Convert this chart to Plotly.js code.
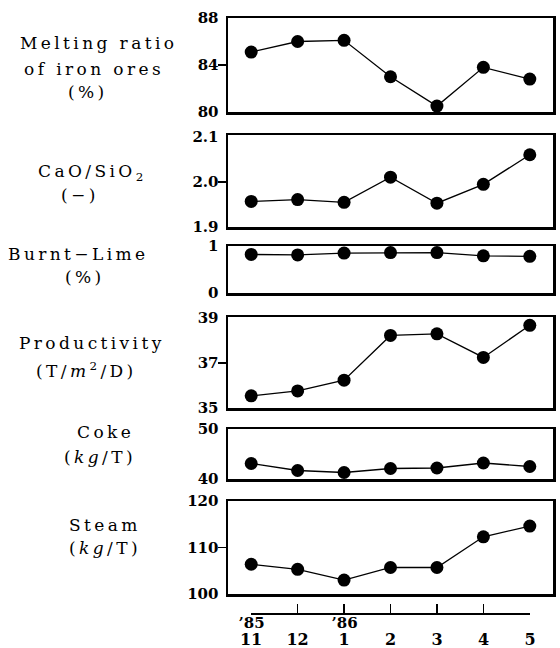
<!DOCTYPE html>
<html><head><meta charset="utf-8">
<script src="https://cdn.plot.ly/plotly-3.0.1.min.js"></script>
<style>
body{margin:0;background:#fff}
.annotation-text{letter-spacing:0.2em}
.annotation[data-index="13"] .annotation-text,.annotation[data-index="14"] .annotation-text{letter-spacing:0}
</style>
</head><body><div id="chart" style="width:560px;height:648px"></div>
<script>
const months = ['11','12','1','2','3','4','5'];
const years = ['\u201985','','\u201986','','','',''];
const meltingRatio = [85.1, 86.0, 86.1, 83.0, 80.5, 83.8, 82.8];
const basicity = [1.957, 1.961, 1.955, 2.011, 1.953, 1.995, 2.061];
const burntLime = [0.82, 0.81, 0.85, 0.86, 0.86, 0.79, 0.78];
const productivity = [35.54, 35.76, 36.24, 38.23, 38.30, 37.25, 38.68];
const coke = [43.1, 41.7, 41.3, 42.1, 42.2, 43.2, 42.5];
const steam = [106.4, 105.3, 103.0, 105.7, 105.7, 112.3, 114.6];

const ticks1 = [80, 84, 88];
const ticks2 = [1.9, 2.0, 2.1];
const ticks3 = [0, 1];
const ticks4 = [35, 37, 39];
const ticks5 = [40, 50];
const ticks6 = [100, 110, 120];

const xs = months.map((m, i) => i);
const series = [meltingRatio, basicity, burntLime, productivity, coke, steam];
const tickSets = [ticks1, ticks2, ticks3, ticks4, ticks5, ticks6];
const tickText = [['80','84','88'], ['1.9','2.0','2.1'], ['0','1'], ['35','37','39'], ['40','50'], ['100','110','120']];
const midTicks = [[84], [2.0], [], [37], [], [110]];
const ranges = [[80, 88], [1.9, 2.105], [0, 1], [35, 39.05], [40, 50], [100, 120]];
const pxDomains = [[18, 112], [135, 227], [246, 293], [317, 408], [429, 479], [501, 594]];

const H = 648;
const xDom = [228/560, 553/560];
const font = '"DejaVu Serif", "Liberation Serif", serif';

const traces = [];
const layout = {
  width: 560, height: 648,
  margin: {l: 0, r: 0, t: 0, b: 0},
  paper_bgcolor: '#fff', plot_bgcolor: '#fff',
  showlegend: false,
  font: {family: font, color: '#000', size: 15},
  annotations: []
};

series.forEach((vals, k) => {
  const i = k + 1;
  traces.push({
    x: xs, y: vals, xaxis: 'x' + i, yaxis: 'y' + i,
    mode: 'lines+markers', cliponaxis: false,
    line: {color: '#000', width: 1.3},
    marker: {color: '#000', size: 13}
  });
  const d = pxDomains[k];
  layout['xaxis' + i] = {
    domain: xDom, range: [-0.5, 6.5], anchor: 'y' + i,
    showline: true, mirror: true, linewidth: 2.5, linecolor: '#000',
    ticks: '', showticklabels: false, showgrid: false, zeroline: false, fixedrange: true
  };
  layout['yaxis' + i] = {
    domain: [1 - d[1]/H, 1 - d[0]/H], range: ranges[k], anchor: 'x' + i,
    showline: true, mirror: true, linewidth: 2.5, linecolor: '#000',
    tickmode: 'array', tickvals: tickSets[k], ticktext: tickText[k],
    ticks: '', ticklabelstandoff: 4,
    minor: {tickmode: 'array', tickvals: midTicks[k], ticks: 'outside', ticklen: 8, tickwidth: 1.5, tickcolor: '#000', showgrid: false},
    showgrid: false, zeroline: false, fixedrange: true,
    tickfont: {family: font, size: 15, color: '#000', weight: 'bold'}
  };
});

// bottom month axis
traces.push({x: xs, y: xs.map(() => null), xaxis: 'x7', yaxis: 'y7', mode: 'lines', hoverinfo: 'skip'});
layout.xaxis7 = {
  domain: [251/560, 530/560], range: [0, 6], anchor: 'y7',
  showline: true, linewidth: 2, linecolor: '#000',
  ticks: 'inside', ticklen: 9, tickwidth: 1.5, tickcolor: '#000',
  tickmode: 'array', tickvals: xs, ticktext: months,
  ticklabelstandoff: 11,
  showgrid: false, zeroline: false, fixedrange: true,
  tickfont: {family: font, size: 16, color: '#000', weight: 'bold'}
};
layout.yaxis7 = {domain: [1 - 613/H, 1 - 608/H], range: [0, 1], visible: false, anchor: 'x7', fixedrange: true};

const labels = [
  ['Melting ratio', 98, 43],
  ['of iron ores', 94, 69],
  ['(%)', 88, 92],
  ['CaO/SiO<sub>2</sub>', 92, 172],
  ['(\u2212)', 80, 195],
  ['Burnt\u2212Lime', 78, 254],
  ['(%)', 85, 277],
  ['Productivity', 92, 343],
  ['(T/<i>m</i><sup>2</sup>/D)', 86, 370],
  ['Coke', 105, 432],
  ['(<i>kg</i>/T)', 100, 457],
  ['Steam', 105, 525],
  ['(<i>kg</i>/T)', 105, 548]
];
labels.forEach(([t, x, y]) => {
  layout.annotations.push({
    text: t, xref: 'paper', yref: 'paper', x: x/560, y: 1 - y/H,
    xanchor: 'center', yanchor: 'middle', showarrow: false,
    font: {family: font, size: 17, color: '#000'}
  });
});

years.forEach((yr, i) => {
  if (!yr) return;
  layout.annotations.push({
    text: yr, xref: 'x7', yref: 'paper', x: xs[i], y: 1 - 623/H,
    xanchor: 'center', yanchor: 'middle', showarrow: false,
    font: {family: font, size: 15, color: '#000', weight: 'bold'}
  });
});

Plotly.newPlot('chart', traces, layout, {displayModeBar: false, staticPlot: true});
</script>
</body></html>
